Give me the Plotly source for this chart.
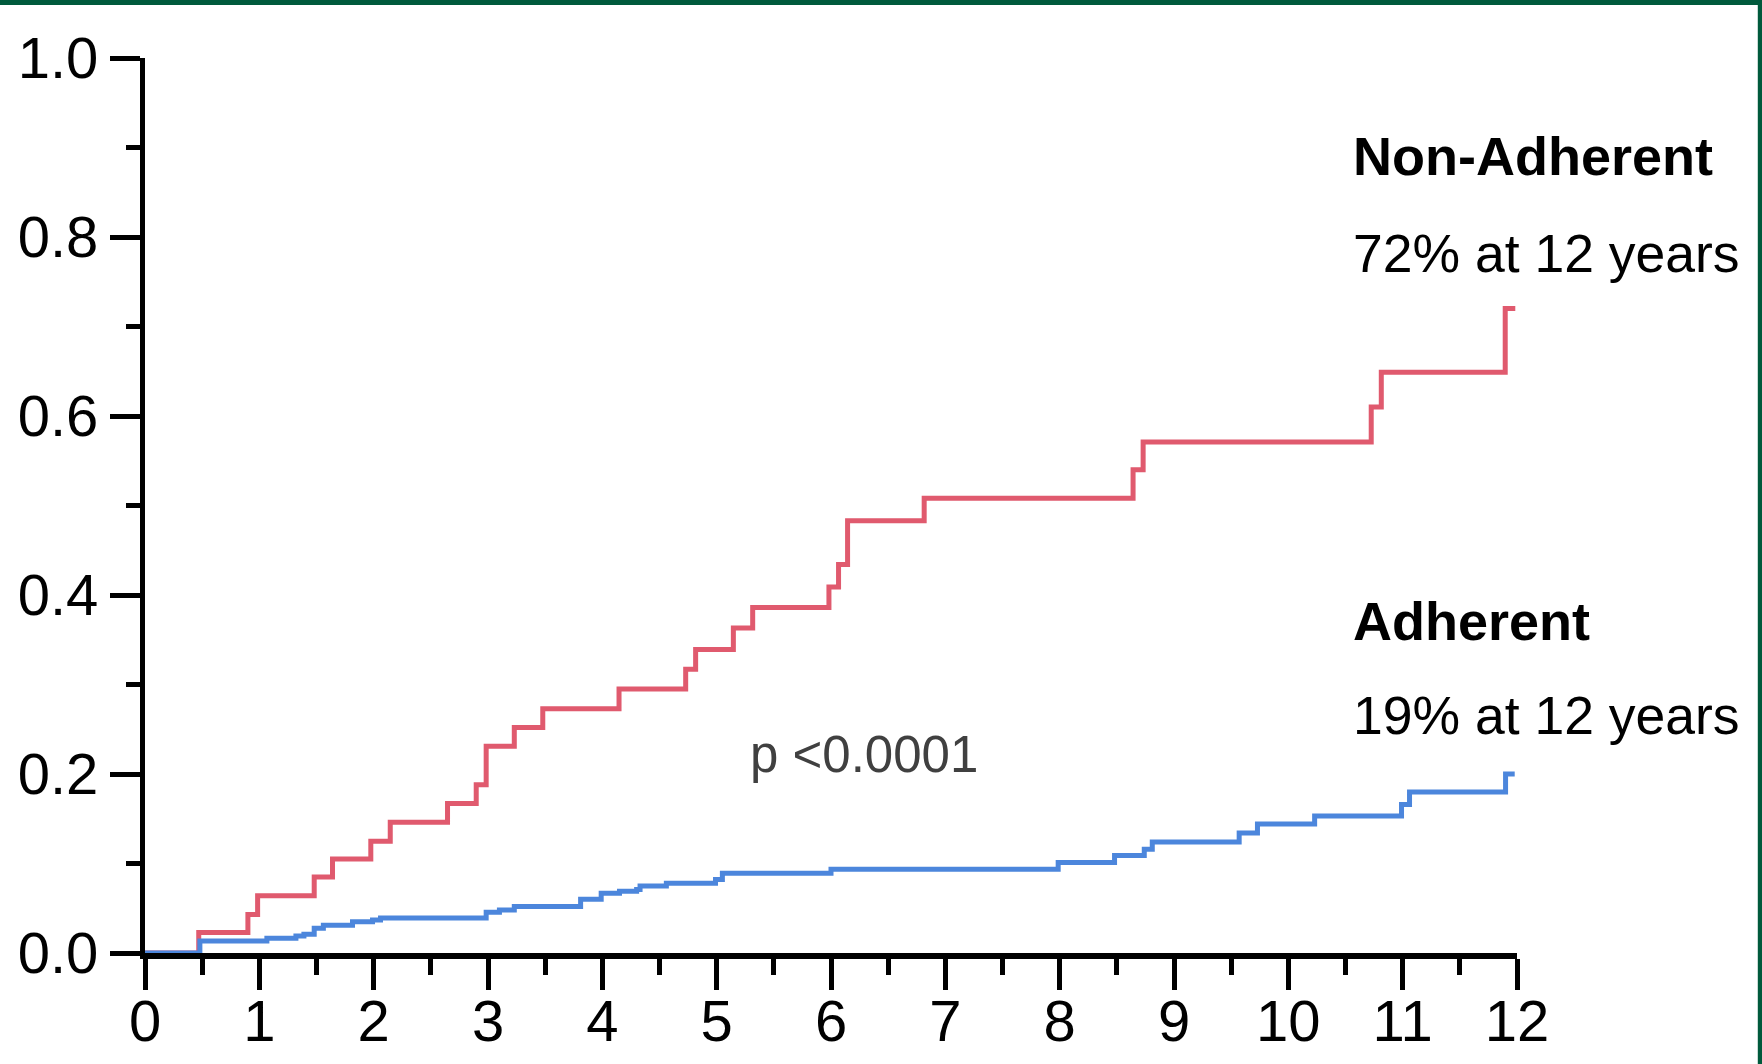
import plotly.graph_objects as go

# ---- data ----
non_adherent_t = [0, 0.47, 0.90, 0.985, 1.48, 1.64, 1.975, 2.145, 2.646, 2.897, 2.984, 3.23, 3.479,
                  4.146, 4.729, 4.816, 5.146, 5.315, 5.982, 6.066, 6.145, 6.815, 8.642, 8.73,
                  10.725, 10.813, 11.897, 11.985]
non_adherent_v = [0, 0.023, 0.043, 0.064, 0.085, 0.105, 0.125, 0.146, 0.167, 0.188, 0.231, 0.252, 0.273,
                  0.295, 0.317, 0.339, 0.363, 0.386, 0.409, 0.434, 0.483, 0.508, 0.540, 0.571,
                  0.610, 0.649, 0.720, 0.720]

adherent_t = [0, 0.48, 1.066, 1.32, 1.39, 1.48, 1.56, 1.815, 1.99, 2.06, 2.984, 3.10, 3.23,
              3.81, 3.99, 4.15, 4.30, 4.33, 4.56, 4.99, 5.05, 6.0, 7.987, 8.48, 8.74, 8.81,
              9.57, 9.73, 10.23, 10.99, 11.06, 11.90, 11.98]
adherent_v = [0, 0.0135, 0.0165, 0.019, 0.021, 0.0276, 0.031, 0.035, 0.037, 0.039, 0.0455, 0.048, 0.052,
              0.060, 0.0667, 0.069, 0.071, 0.075, 0.078, 0.082, 0.089, 0.0935, 0.101, 0.109, 0.116, 0.124,
              0.134, 0.144, 0.153, 0.166, 0.180, 0.200, 0.200]

x_ticks = list(range(0, 13))
y_ticks = [0.0, 0.2, 0.4, 0.6, 0.8, 1.0]

labels = [
    ("<b>Non-Adherent</b>", 10.55, 0.890, 54),
    ("72% at 12 years", 10.55, 0.782, 53.5),
    ("<b>Adherent</b>", 10.55, 0.371, 54),
    ("19% at 12 years", 10.55, 0.265, 53.5),
]
p_text = ("p <0.0001", 5.27, 0.2216, 51)

RED = "#e05a6e"
BLUE = "#4c86dc"
FONT = "Liberation Sans, Arial, sans-serif"

fig = go.Figure()
fig.add_trace(go.Scatter(x=non_adherent_t, y=non_adherent_v, mode="lines",
                         line=dict(shape="hv", color=RED, width=5), hoverinfo="skip"))
fig.add_trace(go.Scatter(x=adherent_t, y=adherent_v, mode="lines",
                         line=dict(shape="hv", color=BLUE, width=5), hoverinfo="skip"))

annotations = []
for txt, x, y, s in labels:
    annotations.append(dict(text=txt, x=x, y=y, xref="x", yref="y", showarrow=False,
                            xanchor="left", yanchor="middle",
                            font=dict(family=FONT, size=s, color="black")))
annotations.append(dict(text=p_text[0], x=p_text[1], y=p_text[2], xref="x", yref="y", showarrow=False,
                        xanchor="left", yanchor="middle",
                        font=dict(family=FONT, size=p_text[3], color="#404040")))

shapes = [
    # dark green frame pieces (top and right)
    dict(type="rect", xref="paper", yref="paper", x0=-0.2, x1=1.3, y0=1.0592, y1=1.08,
         fillcolor="#005a3c", line=dict(width=0), layer="above"),
    dict(type="rect", xref="paper", yref="paper", x0=1.1755, x1=1.3, y0=-0.2, y1=1.08,
         fillcolor="#005a3c", line=dict(width=0), layer="above"),
]

fig.update_layout(
    width=1762, height=1064,
    margin=dict(l=145, r=245, t=58, b=111, autoexpand=False),
    paper_bgcolor="white", plot_bgcolor="white",
    showlegend=False,
    annotations=annotations,
    shapes=shapes,
    font=dict(family=FONT, color="black"),
    xaxis=dict(range=[0, 12], tickvals=x_ticks, ticktext=[str(v) for v in x_ticks],
               automargin=False, ticklabelstandoff=-19,
               showgrid=False, zeroline=False, showline=True, linecolor="black", linewidth=6,
               ticks="outside", ticklen=31, tickwidth=5, tickcolor="black",
               tickfont=dict(family=FONT, size=58, color="black"),
               minor=dict(dtick=0.5, ticks="outside", ticklen=16, tickwidth=5, tickcolor="black"),
               fixedrange=True),
    yaxis=dict(range=[0, 1], tickvals=y_ticks, ticktext=[f"{v:.1f}" for v in y_ticks],
               automargin=False,
               showgrid=False, zeroline=False, showline=True, linecolor="black", linewidth=5,
               ticks="outside", ticklen=30, tickwidth=5, tickcolor="black",
               tickfont=dict(family=FONT, size=58, color="black"),
               minor=dict(dtick=0.1, ticks="outside", ticklen=14, tickwidth=5, tickcolor="black"),
               fixedrange=True),
)

fig.write_html("out.html", config={"displayModeBar": False})
